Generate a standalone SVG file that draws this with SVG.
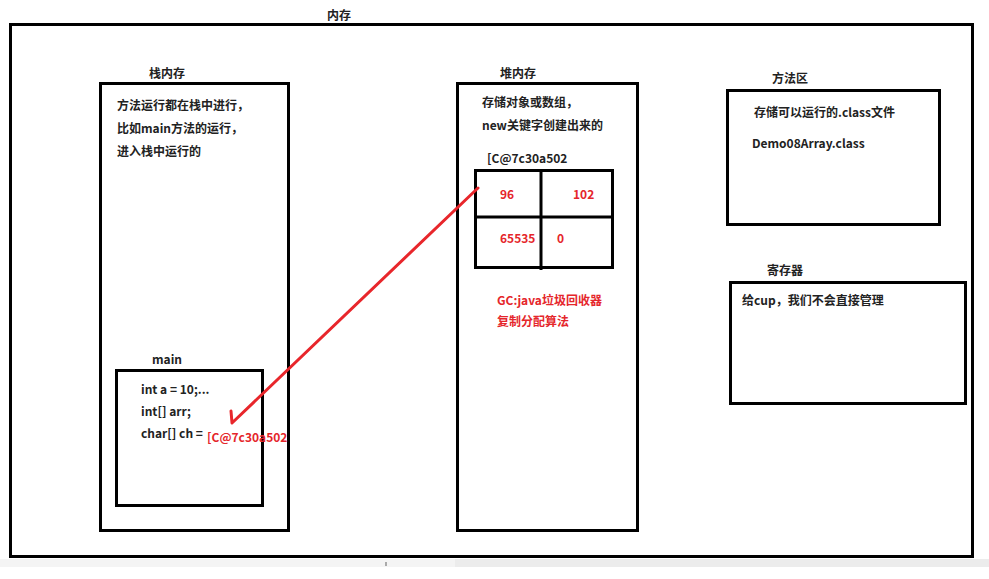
<svg xmlns="http://www.w3.org/2000/svg" width="989" height="579" viewBox="0 0 989 579">
<style>
.box{fill:none;stroke:#000;stroke-width:3}
.t{font-family:"Noto Sans CJK SC","Noto Sans",sans-serif;font-size:12px;font-weight:bold;fill:#222}
.r{fill:#e5262b}
.conn{fill:none;stroke:#e8262b;stroke-width:3;stroke-linecap:round;stroke-linejoin:round}
</style>
<rect width="989" height="579" fill="#fff"/>
<g id="memory">
<rect class="box" x="10.5" y="24.5" width="962" height="532"/>
<text class="t" x="327" y="20">内存</text>
</g>
<g id="stack">
<rect class="box" x="100.5" y="83.5" width="188" height="447"/>
<text class="t" x="149" y="78">栈内存</text>
<text class="t" x="117" y="110">方法运行都在栈中进行，</text>
<text class="t" x="117" y="133">比如main方法的运行，</text>
<text class="t" x="117" y="156">进入栈中运行的</text>
</g>
<g id="main">
<rect class="box" x="116.5" y="370.5" width="146" height="135"/>
<text class="t" x="152" y="364">main</text>
<text class="t" x="141" y="394">int a = 10;...</text>
<text class="t" x="141" y="416">int[] arr;</text>
<text class="t" x="141" y="438">char[] ch =</text>
<text class="t r" x="207" y="442">[C@7c30a502</text>
</g>
<g id="heap">
<rect class="box" x="457.5" y="83.5" width="180" height="447"/>
<text class="t" x="500" y="78">堆内存</text>
<text class="t" x="482" y="107">存储对象或数组，</text>
<text class="t" x="482" y="130">new关键字创建出来的</text>
<text class="t" x="487" y="163">[C@7c30a502</text>
</g>
<g id="array">
<rect class="box" x="475.5" y="170.5" width="137" height="97"/>
<line class="box" x1="541" y1="170" x2="541" y2="270"/>
<line class="box" x1="475" y1="217" x2="614" y2="217"/>
<text class="t r" x="500" y="199">96</text>
<text class="t r" x="573" y="199">102</text>
<text class="t r" x="500" y="243">65535</text>
<text class="t r" x="557" y="243">0</text>
<text class="t r" x="497" y="305">GC:java垃圾回收器</text>
<text class="t r" x="497" y="326">复制分配算法</text>
</g>
<g id="method-area">
<rect class="box" x="727.5" y="90.5" width="212" height="134"/>
<text class="t" x="772" y="83">方法区</text>
<text class="t" x="754" y="117">存储可以运行的.class文件</text>
<text class="t" x="752" y="148">Demo08Array.class</text>
</g>
<g id="register">
<rect class="box" x="730.5" y="282.5" width="235" height="121"/>
<text class="t" x="767" y="275">寄存器</text>
<text class="t" x="742" y="305">给cup，我们不会直接管理</text>
</g>
<g id="connectors">
<polyline class="conn" points="478,188 232,423 231,411"/>
</g>
<g id="scrollbar">
<rect x="0" y="559" width="989" height="8" fill="#ececec"/>
<rect x="0" y="559" width="455" height="8" fill="#f4f4f4"/>
<rect x="385" y="562" width="2" height="4" fill="#aaa"/>
</g>
</svg>
